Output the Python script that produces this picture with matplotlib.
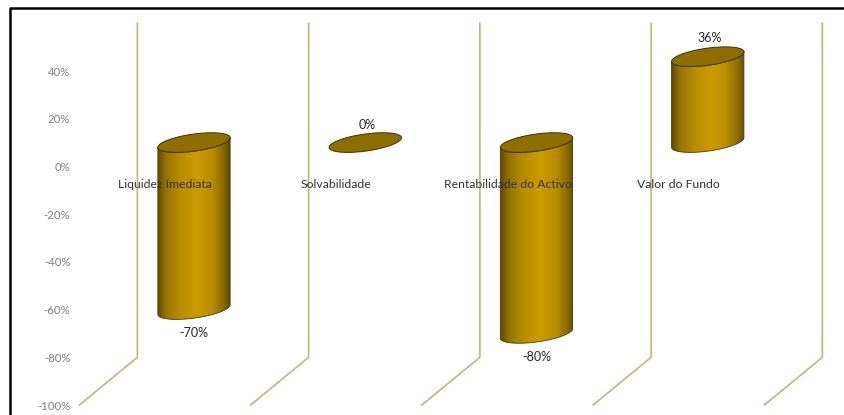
import numpy as np
import matplotlib; matplotlib.use('Agg')
import matplotlib.pyplot as plt
from matplotlib.colors import LinearSegmentedColormap
from matplotlib.lines import Line2D
from matplotlib.patches import PathPatch
from matplotlib.path import Path

# Data
categories = ['Liquidez Imediata', 'Solvabilidade', 'Rentabilidade do Activo', 'Valor do Fundo']
values = [-70, 0, -80, 36]
value_labels = ['-70%', '0%', '-80%', '36%']
y_ticks = [40, 20, 0, -20, -40, -60, -80, -100]
y_tick_labels = ['40%', '20%', '0%', '-20%', '-40%', '-60%', '-80%', '-100%']

W, H = 845, 415
plt.rcParams['font.family'] = ['Lato', 'DejaVu Sans']

fig = plt.figure(figsize=(W / 100, H / 100), dpi=100)
# axes box: y from -100% (405 px) to 40% (71 px)
ax = fig.add_axes([72 / W, (H - 405) / H, (W - 72) / W, (405 - 71) / H])
x_unit = 171.25
y_unit = 334 / 140
xlim = ((72 - 165) / x_unit, (W - 165) / x_unit)
ylim = (-100, 40)
for s in ax.spines.values():
    s.set_visible(False)
ax.set_xticks([])
ax.set_yticks(y_ticks)
ax.set_yticklabels(y_tick_labels, fontsize=8.2, color='#7f7f7f')
ax.tick_params(axis='y', length=0, pad=1.2)

# 3D depth of the chart in data units
depth_x = 58 / x_unit
depth_y = 20

# Walls
wall_color = '#c4b381'
for i in range(len(categories) + 1):
    x0 = i - 0.5
    ax.plot([x0, x0 + depth_x, x0 + depth_x], [-100, -100 + depth_y, 40 + depth_y],
            color=wall_color, lw=1.2, clip_on=False, zorder=1)

# Cylinders
cmap = LinearSegmentedColormap.from_list('cyl', [(0, '#5f4700'), (0.12, '#94720a'), (0.3, '#b58b00'),
                                                 (0.55, '#cb9b00'), (0.75, '#b98e00'), (0.9, '#8f6e00'),
                                                 (1, '#5f4a00')])
grad = np.linspace(0, 1, 256).reshape(1, -1)
top_color = '#8f6e00'
a, b, tilt = 36.5, 8.5, np.deg2rad(8)


def ellipse(cx, cy, t):
    px = a * np.cos(t) * np.cos(tilt) - b * np.sin(t) * np.sin(tilt)
    py = a * np.cos(t) * np.sin(tilt) + b * np.sin(t) * np.cos(tilt)
    return cx + px / x_unit, cy + py / y_unit


for i, v in enumerate(values):
    cx = i + depth_x / 2
    y_hi = max(v, 0) + depth_y / 2
    y_lo = min(v, 0) + depth_y / 2
    t_all = np.linspace(0, 2 * np.pi, 121)
    # lower half of the tilted ellipse, right extreme to left extreme
    t_low = np.linspace(0, -np.pi, 61)
    if v != 0:
        tx, ty = ellipse(cx, y_hi, t_low)
        bx, by = ellipse(cx, y_lo, t_low)
        xs = np.r_[tx, bx[::-1], tx[0]]
        ys = np.r_[ty, by[::-1], ty[0]]
        body = PathPatch(Path(np.c_[xs, ys]), facecolor='none', edgecolor='#4a3a10', lw=0.6,
                         zorder=3, clip_on=False)
        ax.add_patch(body)
        im = ax.imshow(grad, cmap=cmap, aspect='auto', zorder=2,
                       extent=[cx - a / x_unit, cx + a / x_unit, y_lo - 12 / y_unit, y_hi + 12 / y_unit])
        im.set_clip_box(fig.bbox)
        im.set_clip_path(body.get_path(), ax.transData)
    ex, ey = ellipse(cx, y_hi, t_all)
    ax.fill(ex, ey, facecolor=top_color, edgecolor='#3f3208', lw=0.7, zorder=4, clip_on=False)

    offset = 19 if v > 0 else (17.5 if v == 0 else -23.5)
    shift = 1.5 if v >= 0 else 0
    ax.annotate(value_labels[i], (cx, y_hi if v >= 0 else y_lo), xytext=(shift * 0.72, offset * 0.72),
                textcoords='offset points', ha='center', va='center', fontsize=9,
                color='#262626', zorder=6, annotation_clip=False)
    ax.annotate(categories[i], (i, 0), xytext=(0, -18.5 * 0.72), textcoords='offset points',
                ha='center', va='center', fontsize=8.8, color='#333333', zorder=6,
                annotation_clip=False)

# imshow resets limits
ax.set_xlim(xlim)
ax.set_ylim(ylim)

# Picture frame, cropped at right and bottom
fig.add_artist(Line2D([10.5 / W, 10.5 / W, 1], [0, (H - 8) / H, (H - 8) / H], color='black', lw=1.8))

fig.savefig('out.png', dpi=100)
plt.close(fig)
